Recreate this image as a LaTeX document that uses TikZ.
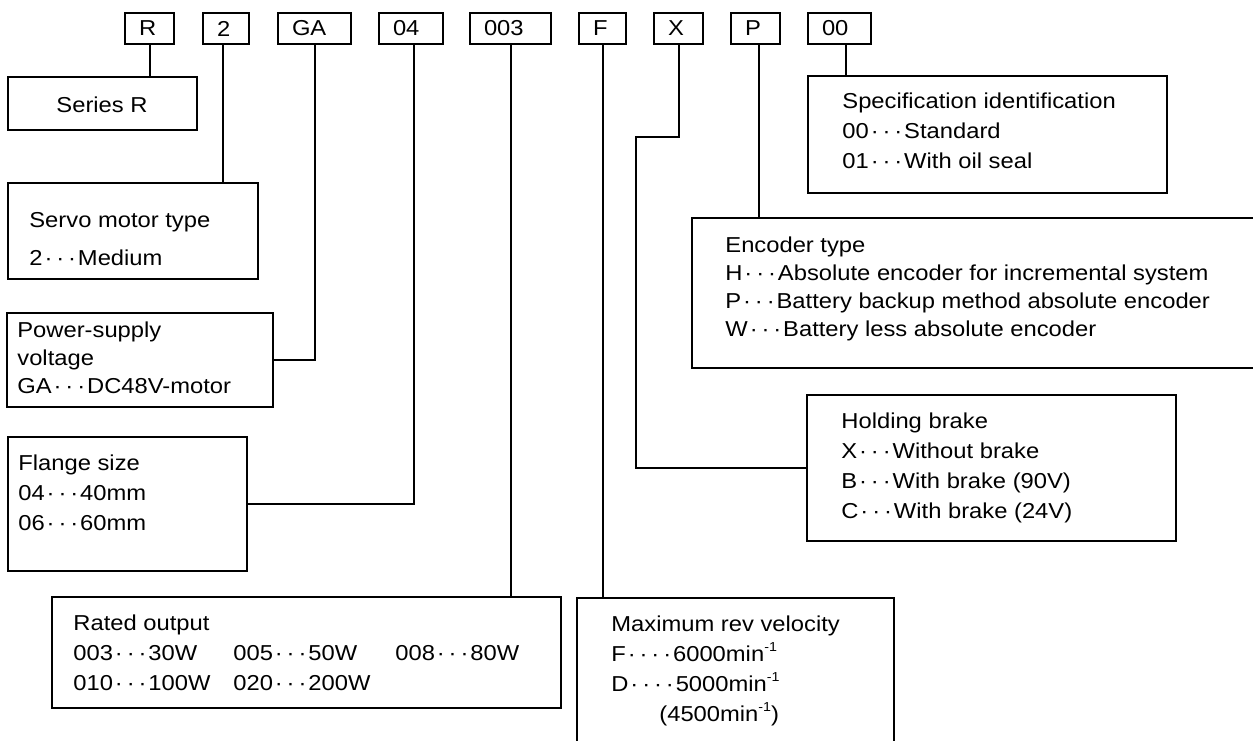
\documentclass[tikz,border=0pt]{standalone}
\usepackage{fontspec}
\newfontfamily\diagfont{Liberation Sans}[FakeStretch=1.1]
\usetikzlibrary{fit}
\newcommand{\dt}{\makebox[5.9pt]{\textperiodcentered}}
\newcommand{\tdots}{\dt\dt\dt}
\newcommand{\permin}{min\raisebox{4.6pt}{\fontsize{6.5}{7}\selectfont -1}}

\begin{document}
\begin{tikzpicture}[x=0.5pt,y=-0.5pt,
  font=\diagfont\fontsize{10.8}{15}\selectfont,
  panel/.style={draw, line width=1pt, inner sep=0pt},
  codebox/.style={draw, line width=1pt, anchor=north west, minimum height=15.5pt, inner xsep=7pt, inner ysep=0pt, text width=#1, align=left},
  desc/.style={anchor=base west, align=left, inner sep=0pt},
  link/.style={line width=1pt},
]
\useasboundingbox (0,0) rectangle (1253,740);
\clip (0,0) rectangle (1253,740);

% model code
\node[codebox=10.5pt] (cR) at (124,12) {R};
\node[codebox=9pt] (c2) at (202,12) {2};
\node[codebox=22.5pt] (cGA) at (277,12) {GA};
\node[codebox=18pt] (c04) at (378,12) {04};
\node[codebox=26.5pt] (c003) at (469,12) {003};
\node[codebox=9.5pt] (cF) at (578,12) {F};
\node[codebox=10.5pt] (cX) at (653,12) {X};
\node[codebox=10.5pt] (cP) at (730,12) {P};
\node[codebox=17.5pt] (c00) at (807,12) {00};

% left column (desc nodes sit on the baseline of their last line)
\node[panel,fit={(8,77) (197,130)}] (bxR) {};
\node[desc,anchor=base] (tR) at (102,112) {Series R};
\node[panel,fit={(8,183) (258,279)}] (bxServo) {};
\node[desc] (tServo) at (29,265) {Servo motor type\\[4pt]2\tdots Medium};
\node[panel,fit={(7,313) (273,407)}] (bxPower) {};
\node[desc] (tPower) at (17,393) {Power-supply\\[-1pt]voltage\\[-1pt]GA\tdots DC48V-motor};
\node[panel,fit={(8,437) (247,571)}] (bxFlange) {};
\node[desc] (tFlange) at (18,530) {Flange size\\04\tdots 40mm\\06\tdots 60mm};

% bottom row
\node[panel,fit={(52,597) (561,708)}] (bxRated) {};
\node[desc] (tRated) at (73,690) {Rated output\\
  \makebox[80pt][l]{003\tdots 30W}\makebox[81pt][l]{005\tdots 50W}008\tdots 80W\\
  \makebox[80pt][l]{010\tdots 100W}020\tdots 200W};
\node[panel,fit={(577,598) (894,770)}] (bxMax) {};
\node[desc] (tMax) at (611,721) {Maximum rev velocity\\F\dt\dt\dt\dt 6000\permin\\D\dt\dt\dt\dt 5000\permin\\\hspace*{24pt}(4500\permin)};

% right column
\node[panel,fit={(808,76) (1167,193)}] (bxSpec) {};
\node[desc] (tSpec) at (842,168) {Specification identification\\00\tdots Standard\\01\tdots With oil seal};
\node[panel,fit={(692,218) (1275,368)}] (bxEnc) {};
\node[desc] (tEnc) at (725,336) {Encoder type\\[-1pt]H\tdots Absolute encoder for incremental system\\[-1pt]P\tdots Battery backup method absolute encoder\\[-1pt]W\tdots Battery less absolute encoder};
\node[panel,fit={(807,395) (1176,541)}] (bxBrake) {};
\node[desc] (tBrake) at (841,518) {Holding brake\\X\tdots Without brake\\B\tdots With brake (90V)\\C\tdots With brake (24V)};

% leaders
\draw[link] (cR.south) -- (cR.south |- bxR.north);
\draw[link] ([xshift=-1.5pt]c2.south) -- ([xshift=-1.5pt]c2.south |- bxServo.north);
\draw[link] (cGA.south) |- (bxPower.east);
\draw[link] ([xshift=1.5pt]c04.south) |- (bxFlange.east);
\draw[link] (c003.south) -- (c003.south |- bxRated.north);
\draw[link] (cF.south) -- (cF.south |- bxMax.north);
\draw[link] (cX.south) |- (636,137) |- (bxBrake.west);
\draw[link] ([xshift=1.5pt]cP.south) -- ([xshift=1.5pt]cP.south |- bxEnc.north);
\draw[link] ([xshift=3pt]c00.south) -- ([xshift=3pt]c00.south |- bxSpec.north);

\end{tikzpicture}
\end{document}
